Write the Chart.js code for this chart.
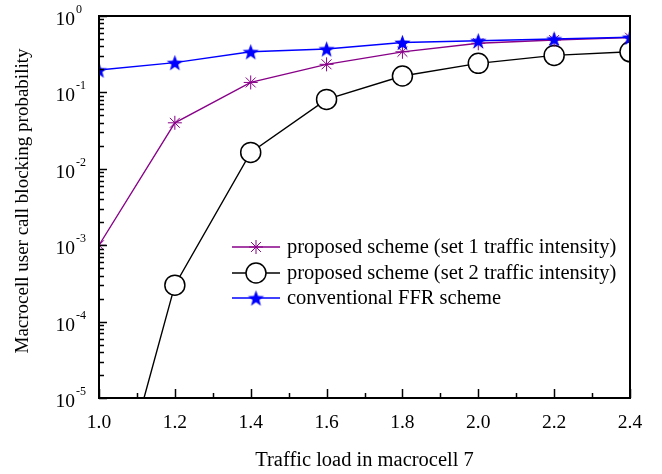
<!DOCTYPE html>
<html>
<head>
<meta charset="utf-8">
<script src="https://cdn.jsdelivr.net/npm/chart.js@4/dist/chart.umd.min.js"></script>
<style>
    html, body { margin: 0; padding: 0; background: #fff; }
    #chart { display: block; }
</style>
</head>
<body>
<canvas id="chart" width="662" height="474"></canvas>
<script>
// values
const trafficLoad = [1.0, 1.2, 1.4, 1.6, 1.8, 2.0, 2.2, 2.4];
const set1Blocking = [1.0e-3, 0.040, 0.135, 0.233, 0.34, 0.44, 0.485, 0.52];
const set2Blocking = [7e-8, 3.0e-4, 0.0164, 0.081, 0.164, 0.24, 0.305, 0.34];
const ffrBlocking = [0.196, 0.245, 0.34, 0.37, 0.45, 0.475, 0.5, 0.526];

const seriesNames = [
    'proposed scheme (set 1 traffic intensity)',
    'proposed scheme (set 2 traffic intensity)',
    'conventional FFR scheme'
];
const xTickValues = [1.0, 1.2, 1.4, 1.6, 1.8, 2.0, 2.2, 2.4];
const yDecades = [0, -1, -2, -3, -4, -5];

const xTitle = 'Traffic load in macrocell 7';
const yTitle = 'Macrocell user call blocking probability';

const SERIF = '"Liberation Serif", "Times New Roman", serif';

// filled 5 point star used as point style
function makeStar(r, color) {
    const c = document.createElement('canvas');
    const size = Math.ceil(r * 2 + 2);
    c.width = size;
    c.height = size;
    const g = c.getContext('2d');
    const cx = size / 2, cy = size / 2 + 0.8;
    g.beginPath();
    for (let i = 0; i < 10; i++) {
        const rad = i % 2 === 0 ? r : r * 0.42;
        const a = -Math.PI / 2 + i * Math.PI / 5;
        const px = cx + rad * Math.cos(a);
        const py = cy + rad * Math.sin(a);
        if (i === 0) g.moveTo(px, py); else g.lineTo(px, py);
    }
    g.closePath();
    g.fillStyle = color;
    g.fill();
    return c;
}

const blueStar = makeStar(8.5, '#0000ff');

function toPoints(values) {
    return trafficLoad.map((x, i) => ({ x: x, y: values[i] }));
}

const datasets = [
    {
        label: seriesNames[0],
        data: toPoints(set1Blocking),
        borderColor: '#880088',
        backgroundColor: '#880088',
        borderWidth: 1.3,
        pointStyle: 'star',
        pointRadius: 7,
        pointBorderWidth: 1,
        pointBorderColor: '#880088',
        order: 1
    },
    {
        label: seriesNames[1],
        data: toPoints(set2Blocking),
        borderColor: '#000000',
        backgroundColor: '#ffffff',
        borderWidth: 1.4,
        pointStyle: 'circle',
        pointRadius: 10,
        pointBorderWidth: 1.5,
        pointBackgroundColor: '#ffffff',
        pointBorderColor: '#000000',
        order: 2
    },
    {
        label: seriesNames[2],
        data: toPoints(ffrBlocking),
        borderColor: '#0000ff',
        backgroundColor: '#0000ff',
        borderWidth: 1.4,
        pointStyle: blueStar,
        pointRadius: 8,
        order: 0
    }
];

function drawMarker(ctx, ds, x, y) {
    ctx.save();
    ctx.strokeStyle = ds.pointBorderColor || ds.borderColor;
    ctx.fillStyle = ds.pointBackgroundColor || ds.backgroundColor;
    ctx.lineWidth = ds.pointBorderWidth || 1;
    if (Chart.helpers && Chart.helpers.drawPoint) {
        Chart.helpers.drawPoint(ctx, {
            pointStyle: ds.pointStyle,
            radius: ds.pointRadius,
            rotation: 0,
            borderWidth: ds.pointBorderWidth || 1
        }, x, y);
    } else if (ds.pointStyle instanceof HTMLCanvasElement) {
        ctx.drawImage(ds.pointStyle, x - ds.pointStyle.width / 2, y - ds.pointStyle.height / 2);
    }
    ctx.restore();
}

const framePlugin = {
    id: 'frame',
    afterDraw(chart) {
        const ctx = chart.ctx;
        const area = chart.chartArea;
        const xs = chart.scales.x;
        const ys = chart.scales.y;

        ctx.save();
        ctx.strokeStyle = '#000';
        ctx.fillStyle = '#000';

        // box
        ctx.lineWidth = 2;
        ctx.strokeRect(area.left, area.top, area.right - area.left, area.bottom - area.top);

        // x ticks, pointing inward
        ctx.lineWidth = 1.5;
        for (let v = 1.0; v <= 2.4001; v += 0.1) {
            const px = Math.round(xs.getPixelForValue(v)) + 0.5;
            const major = Math.abs(v * 5 - Math.round(v * 5)) < 1e-6;
            ctx.beginPath();
            ctx.moveTo(px, area.bottom);
            ctx.lineTo(px, area.bottom - (major ? 9 : 5));
            ctx.stroke();
        }

        // y ticks, log minors
        yDecades.forEach(d => {
            const py = Math.round(ys.getPixelForValue(Math.pow(10, d))) + 0.5;
            ctx.beginPath();
            ctx.moveTo(area.left, py);
            ctx.lineTo(area.left + 8, py);
            ctx.stroke();
            if (d > -5) {
                for (let m = 2; m <= 9; m++) {
                    const my = Math.round(ys.getPixelForValue(m * Math.pow(10, d - 1))) + 0.5;
                    ctx.beginPath();
                    ctx.moveTo(area.left, my);
                    ctx.lineTo(area.left + 5, my);
                    ctx.stroke();
                }
            }
        });

        // x tick labels
        ctx.font = '19.5px ' + SERIF;
        ctx.textAlign = 'center';
        ctx.textBaseline = 'alphabetic';
        xTickValues.forEach(v => {
            ctx.fillText(v.toFixed(1), xs.getPixelForValue(v), area.bottom + 30);
        });

        // y tick labels 10^n
        yDecades.forEach(d => {
            const py = ys.getPixelForValue(Math.pow(10, d));
            ctx.font = '19.5px ' + SERIF;
            ctx.textAlign = 'right';
            ctx.fillText('10', area.left - 24, py + 9);
            ctx.font = '12px ' + SERIF;
            ctx.textAlign = 'left';
            ctx.fillText(d === 0 ? '0' : '-' + Math.abs(d), area.left - 23, py - 3);
        });

        // axis titles
        ctx.font = '20.5px ' + SERIF;
        ctx.textAlign = 'center';
        ctx.fillText(xTitle, (area.left + area.right) / 2, 466);

        ctx.save();
        ctx.translate(23, 201);
        ctx.rotate(-Math.PI / 2);
        ctx.font = '19px ' + SERIF;
        ctx.textBaseline = 'middle';
        ctx.fillText(yTitle, 0, 0);
        ctx.restore();

        // legend
        const rows = [247, 273, 298];
        datasets.forEach((ds, i) => {
            const ly = rows[i];
            ctx.save();
            ctx.strokeStyle = ds.borderColor;
            ctx.lineWidth = ds.borderWidth;
            ctx.beginPath();
            ctx.moveTo(232, ly);
            ctx.lineTo(280, ly);
            ctx.stroke();
            ctx.restore();
            drawMarker(ctx, ds, 256, ly);
            ctx.fillStyle = '#000';
            ctx.font = '20.5px ' + SERIF;
            ctx.textAlign = 'left';
            ctx.textBaseline = 'middle';
            ctx.fillText(ds.label, 287, ly + 1);
        });

        ctx.restore();
    }
};

new Chart(document.getElementById('chart').getContext('2d'), {
    type: 'line',
    data: { datasets: datasets },
    options: {
        responsive: false,
        animation: false,
        layout: { padding: { left: 99, right: 32, top: 16, bottom: 76 } },
        scales: {
            x: { type: 'linear', min: 1.0, max: 2.4, display: false },
            y: { type: 'logarithmic', min: 1e-5, max: 1, display: false }
        },
        plugins: {
            legend: { display: false },
            tooltip: { enabled: false }
        }
    },
    plugins: [framePlugin]
});
</script>
</body>
</html>
